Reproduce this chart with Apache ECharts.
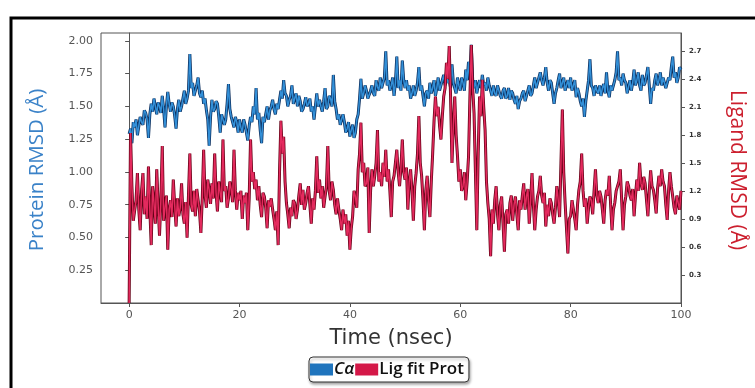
<!DOCTYPE html>
<html>
<head>
<meta charset="utf-8">
<script src="https://cdn.jsdelivr.net/npm/echarts@6/dist/echarts.min.js"></script>
<style>
  html, body { margin: 0; padding: 0; background: #fff; }
  #chart { width: 755px; height: 388px; }
</style>
</head>
<body>
<div id="chart"></div>
<script>
// one frame every 0.25 ns, 0..100 ns
const timeStepNs = 0.25;

const caRmsd = [
  1.29, 1.33, 1.22, 1.38, 1.34, 1.40, 1.28, 1.35, 1.42, 1.38, 1.36, 1.47, 1.45, 1.40, 1.26, 1.44, 1.52, 1.46, 1.56, 1.50,
  1.44, 1.53, 1.50, 1.45, 1.58, 1.48, 1.34, 1.50, 1.61, 1.52, 1.46, 1.53, 1.50, 1.43, 1.33, 1.48, 1.55, 1.46, 1.50, 1.56, 1.62,
  1.52, 1.56, 1.62, 1.90, 1.64, 1.68, 1.58, 1.62, 1.66, 1.72, 1.60, 1.57, 1.62, 1.52, 1.56, 1.47, 1.40, 1.20, 1.42, 1.55,
  1.46, 1.48, 1.54, 1.52, 1.42, 1.30, 1.44, 1.45, 1.36, 1.40, 1.52, 1.67, 1.48, 1.42, 1.38, 1.34, 1.42, 1.38, 1.30, 1.40,
  1.34, 1.30, 1.40, 1.36, 1.30, 1.24, 1.35, 1.42, 1.38, 1.50, 1.44, 1.64, 1.40, 1.45, 1.32, 1.22, 1.42, 1.38, 1.44, 1.50,
  1.40, 1.47, 1.50, 1.55, 1.48, 1.44, 1.52, 1.48, 1.55, 1.62, 1.56, 1.70, 1.60, 1.58, 1.50, 1.55, 1.58, 1.66, 1.52, 1.56,
  1.60, 1.50, 1.58, 1.54, 1.46, 1.48, 1.52, 1.57, 1.50, 1.52, 1.56, 1.46, 1.50, 1.40, 1.50, 1.60, 1.50, 1.55, 1.50, 1.46,
  1.54, 1.64, 1.48, 1.50, 1.58, 1.56, 1.50, 1.74, 1.54, 1.48, 1.40, 1.44, 1.36, 1.40, 1.44, 1.38, 1.30, 1.33, 1.38, 1.27,
  1.32, 1.36, 1.26, 1.30, 1.40, 1.44, 1.56, 1.71, 1.56, 1.60, 1.66, 1.62, 1.56, 1.55, 1.62, 1.66, 1.60, 1.58, 1.70, 1.65,
  1.62, 1.72, 1.64, 1.68, 1.72, 1.92, 1.66, 1.70, 1.62, 1.66, 1.72, 1.58, 1.68, 1.88, 1.64, 1.70, 1.62, 1.85, 1.70, 1.64,
  1.70, 1.62, 1.66, 1.56, 1.60, 1.66, 1.58, 1.62, 1.68, 1.80, 1.62, 1.66, 1.58, 1.50, 1.60, 1.62, 1.56, 1.68, 1.60, 1.64,
  1.70, 1.58, 1.64, 1.72, 1.62, 1.66, 1.70, 1.74, 1.66, 1.76, 1.68, 1.70, 1.64, 1.82, 1.68, 1.64, 1.60, 1.72, 1.66, 1.62,
  1.72, 1.68, 1.62, 1.78, 1.70, 1.84, 1.70, 1.97, 1.70, 1.64, 1.70, 1.60, 1.66, 1.70, 1.64, 1.74, 1.66, 1.68, 1.62, 1.72,
  1.66, 1.62, 1.58, 1.66, 1.60, 1.58, 1.66, 1.62, 1.58, 1.56, 1.62, 1.64, 1.56, 1.58, 1.64, 1.55, 1.62, 1.60, 1.55, 1.52,
  1.58, 1.48, 1.54, 1.56, 1.60, 1.62, 1.54, 1.58, 1.62, 1.66, 1.58, 1.60, 1.66, 1.72, 1.64, 1.68, 1.72, 1.76, 1.70, 1.66,
  1.72, 1.80, 1.68, 1.62, 1.70, 1.68, 1.60, 1.52, 1.60, 1.64, 1.70, 1.75, 1.64, 1.68, 1.72, 1.62, 1.66, 1.70, 1.64, 1.72,
  1.62, 1.66, 1.70, 1.57, 1.64, 1.60, 1.54, 1.50, 1.56, 1.42, 1.54, 1.62, 1.70, 1.86, 1.66, 1.64, 1.58, 1.66, 1.62, 1.60,
  1.66, 1.58, 1.64, 1.67, 1.60, 1.76, 1.62, 1.57, 1.66, 1.62, 1.66, 1.70, 1.76, 1.92, 1.70, 1.72, 1.66, 1.75, 1.70, 1.68,
  1.60, 1.65, 1.70, 1.62, 1.68, 1.78, 1.66, 1.70, 1.76, 1.66, 1.62, 1.74, 1.66, 1.68, 1.74, 1.80, 1.66, 1.52, 1.64, 1.62,
  1.70, 1.75, 1.66, 1.70, 1.76, 1.66, 1.72, 1.72, 1.64, 1.64, 1.72, 1.70, 1.80, 1.88, 1.72, 1.76, 1.68, 1.72, 1.80, 1.78
];

const ligRmsd = [
  0.00, 1.82, 1.25, 0.88, 0.90, 1.10, 1.39, 1.00, 0.78, 1.20, 1.39, 0.95, 1.14, 0.90, 1.46, 1.00, 0.62, 1.25, 1.07, 0.85,
  1.43, 1.05, 0.72, 1.10, 1.68, 0.88, 1.02, 1.15, 0.57, 1.00, 1.10, 0.92, 1.32, 1.05, 0.82, 1.12, 0.93, 1.02, 1.28, 0.95, 0.85,
  1.08, 0.70, 1.15, 1.60, 1.05, 0.98, 1.20, 0.93, 1.22, 1.10, 0.98, 0.75, 1.12, 1.64, 1.15, 1.02, 1.32, 1.21, 1.06, 1.28,
  1.12, 1.60, 1.18, 0.98, 1.30, 1.18, 1.08, 1.75, 1.20, 1.25, 1.02, 1.12, 1.30, 1.21, 1.08, 1.64, 1.20, 1.00, 1.18, 1.10,
  1.20, 0.90, 1.15, 1.07, 1.18, 0.78, 1.12, 1.75, 1.30, 1.40, 1.22, 1.32, 1.10, 1.25, 1.05, 0.92, 1.18, 1.14, 1.02, 0.80,
  1.10, 1.03, 1.12, 1.00, 0.90, 0.78, 0.98, 0.62, 1.40, 1.95, 1.60, 1.78, 1.30, 1.07, 0.95, 0.80, 1.02, 0.93, 1.10, 1.07,
  0.90, 1.00, 1.15, 1.28, 1.05, 1.21, 1.00, 1.07, 1.18, 1.25, 1.05, 0.85, 1.12, 1.00, 1.20, 1.57, 1.18, 1.32, 1.12, 1.25,
  1.02, 1.14, 1.25, 1.68, 1.20, 1.10, 1.30, 1.21, 1.05, 0.95, 1.12, 1.00, 0.90, 0.78, 1.00, 0.85, 0.95, 0.72, 0.88, 0.57,
  0.80, 0.93, 1.20, 1.14, 1.02, 1.43, 1.60, 1.93, 1.40, 1.50, 1.25, 1.28, 1.45, 0.75, 1.20, 1.43, 1.25, 1.36, 1.50, 1.85,
  1.30, 1.40, 1.25, 1.50, 1.35, 1.64, 1.30, 1.43, 1.20, 0.92, 1.30, 1.36, 1.50, 1.64, 1.40, 1.25, 1.45, 1.75, 1.40, 1.32,
  1.45, 1.00, 1.30, 1.43, 1.20, 0.88, 1.25, 1.39, 1.60, 2.00, 1.50, 1.36, 1.10, 0.78, 1.20, 1.36, 1.10, 0.92, 1.30, 1.60,
  1.95, 2.21, 2.00, 2.10, 1.90, 1.75, 2.00, 2.21, 2.30, 2.57, 2.40, 2.75, 2.20, 1.50, 1.90, 2.21, 1.80, 1.57, 1.30, 1.43,
  1.20, 1.25, 1.40, 1.10, 1.30, 1.57, 2.20, 2.76, 2.30, 2.03, 1.40, 0.78, 1.60, 2.21, 2.00, 2.39, 2.10, 1.85, 1.30, 1.07,
  0.90, 0.50, 1.00, 0.85, 1.10, 1.25, 0.95, 0.78, 1.05, 1.14, 0.85, 0.55, 0.95, 1.00, 0.85, 1.07, 1.15, 0.88, 1.05, 1.14,
  0.95, 0.78, 1.10, 1.00, 1.15, 1.28, 1.00, 1.14, 1.22, 0.85, 1.10, 1.39, 1.05, 0.78, 1.00, 1.14, 1.20, 1.36, 1.15, 1.07,
  1.18, 0.82, 1.05, 0.93, 1.12, 1.07, 0.95, 0.85, 1.02, 1.25, 1.10, 0.92, 1.50, 2.07, 1.40, 1.07, 0.80, 0.53, 0.90, 0.93,
  1.10, 1.00, 0.90, 0.78, 1.05, 1.21, 1.30, 1.60, 1.20, 1.03, 1.12, 0.85, 1.02, 1.14, 1.10, 0.95, 1.20, 1.43, 1.15, 1.07,
  1.20, 1.14, 1.00, 0.85, 1.10, 1.21, 1.15, 1.36, 1.05, 0.78, 1.00, 1.07, 1.20, 1.18, 1.30, 1.43, 1.10, 0.78, 1.05, 1.14,
  1.30, 1.25, 1.15, 1.10, 1.22, 0.93, 1.15, 1.32, 1.20, 1.50, 1.28, 1.21, 1.35, 1.28, 1.10, 0.93, 1.20, 1.42, 1.25, 1.21,
  1.10, 0.96, 1.22, 1.36, 1.25, 1.43, 1.30, 1.25, 1.05, 0.89, 1.20, 1.40, 1.25, 1.14, 1.02, 0.95, 1.15, 1.07, 1.00, 1.20
];

const timeTicks = [0, 20, 40, 60, 80, 100];
const proteinTicks = [0.25, 0.5, 0.75, 1.0, 1.25, 1.5, 1.75, 2.0];
const ligandTicks = [0.3, 0.6, 0.9, 1.2, 1.5, 1.8, 2.1, 2.4, 2.7];

const toPairs = arr => arr.map((v, i) => [i * timeStepNs, v]);

const chart = echarts.init(document.getElementById('chart'));

const axisGray = '#555';
const tickFont = 'DejaVu Sans';

chart.setOption({
  animation: false,
  grid: {left: 101, right: 74, top: 33, bottom: 85, show: true, borderColor: axisGray, borderWidth: 1},
  xAxis: {
    type: 'value',
    min: -5.1,
    max: 100,
    axisLine: {show: true, lineStyle: {color: axisGray}},
    axisTick: {show: true, length: 4, customValues: timeTicks, lineStyle: {color: axisGray}},
    axisLabel: {customValues: timeTicks, color: '#555', fontSize: 11, fontFamily: tickFont, margin: 7},
    splitLine: {show: false}
  },
  yAxis: [{
    type: 'value',
    position: 'left',
    min: 0,
    max: 2.06,
    axisLine: {show: true, lineStyle: {color: axisGray}},
    axisTick: {show: true, length: 4, customValues: proteinTicks, lineStyle: {color: axisGray}},
    axisLabel: {
      customValues: proteinTicks, color: '#555', fontSize: 11, fontFamily: tickFont, margin: 8,
      formatter: v => v.toFixed(2)
    },
    splitLine: {show: false}
  }, {
    type: 'value',
    position: 'right',
    min: 0,
    max: 2.89,
    axisLine: {show: true, lineStyle: {color: axisGray}},
    axisTick: {show: true, length: 4, customValues: ligandTicks, lineStyle: {color: axisGray}},
    axisLabel: {
      customValues: ligandTicks, color: '#333', fontSize: 7, fontWeight: 'bold', fontFamily: tickFont, margin: 8,
      formatter: v => v.toFixed(1)
    },
    splitLine: {show: false}
  }],
  legend: {
    data: ['Cα', 'Lig fit Prot'],
    left: 309,
    top: 357,
    icon: 'rect',
    itemWidth: 23,
    itemHeight: 12,
    itemGap: 1,
    padding: [4, 5, 4, 1],
    borderColor: '#333',
    borderWidth: 1,
    borderRadius: 4,
    backgroundColor: '#fff',
    shadowColor: 'rgba(0,0,0,0.35)',
    shadowBlur: 3,
    shadowOffsetX: 1,
    shadowOffsetY: 2,
    selectedMode: false,
    formatter: name => name === 'Cα' ? '{i|C\u03b1}' : name,
    textStyle: {
      fontFamily: 'Open Sans', fontSize: 17, fontWeight: 600, color: '#111', padding: [0, 0, 0, -4],
      rich: {i: {fontFamily: 'Open Sans', fontSize: 17, fontWeight: 600, fontStyle: 'italic', color: '#111'}}
    }
  },
  series: [{
    name: 'Cα edge',
    type: 'line',
    yAxisIndex: 0,
    data: toPairs(caRmsd),
    showSymbol: false,
    lineStyle: {color: '#0c2f5e', width: 3},
    itemStyle: {color: '#0c2f5e'},
    z: 2
  }, {
    name: 'Cα',
    type: 'line',
    yAxisIndex: 0,
    data: toPairs(caRmsd),
    showSymbol: false,
    lineStyle: {color: '#3390d8', width: 1.5},
    itemStyle: {color: '#1f74bd'},
    z: 3
  }, {
    name: 'Lig edge',
    type: 'line',
    yAxisIndex: 1,
    data: toPairs(ligRmsd),
    showSymbol: false,
    lineStyle: {color: '#650016', width: 3},
    itemStyle: {color: '#650016'},
    z: 4
  }, {
    name: 'Lig fit Prot',
    type: 'line',
    yAxisIndex: 1,
    data: toPairs(ligRmsd),
    showSymbol: false,
    lineStyle: {color: '#e42a5e', width: 1.5},
    itemStyle: {color: '#d41848'},
    z: 5
  }],
  graphic: [{
    type: 'rect',
    shape: {x: 11, y: 18, width: 800, height: 500},
    style: {fill: 'none', stroke: '#000', lineWidth: 3},
    silent: true
  }, {
    type: 'text',
    x: 37, y: 170,
    rotation: Math.PI / 2,
    style: {text: 'Protein RMSD (Å)', fontFamily: 'Open Sans', fontSize: 20.5, fill: '#3a82c8', align: 'center', verticalAlign: 'middle'}
  }, {
    type: 'text',
    x: 737, y: 170,
    rotation: -Math.PI / 2,
    style: {text: 'Ligand RMSD (Å)', fontFamily: 'Open Sans', fontSize: 21, fill: '#cc1f2e', align: 'center', verticalAlign: 'middle'}
  }, {
    type: 'text',
    x: 391, y: 339,
    style: {text: 'Time (nsec)', fontFamily: 'DejaVu Sans', fontSize: 21, fill: '#333', align: 'center', verticalAlign: 'middle'}
  }]
});
</script>
</body>
</html>
